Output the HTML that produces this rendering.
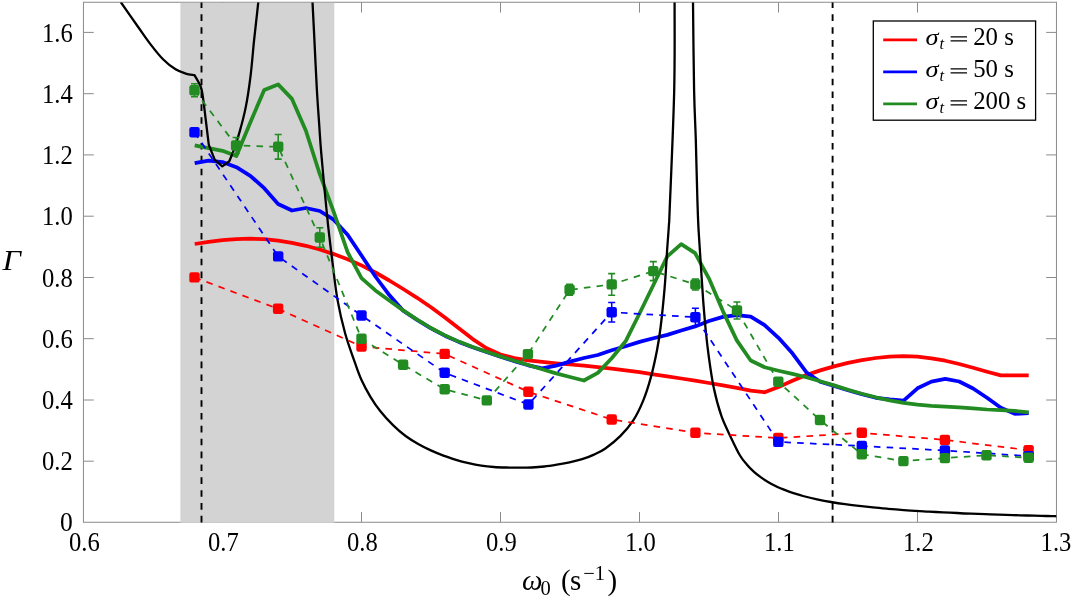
<!DOCTYPE html>
<html><head><meta charset="utf-8"><title>Gamma vs omega0</title>
<style>html,body{margin:0;padding:0;background:#fff;}body{width:1071px;height:603px;overflow:hidden;font-family:"Liberation Serif",serif;}svg{display:block;will-change:transform;}text{font-family:"Liberation Serif",serif;fill:#000;}</style>
</head><body>
<svg width="1071" height="603" viewBox="0 0 1071 603">
<rect x="0" y="0" width="1071" height="603" fill="#ffffff"/>
<g stroke="#8a8a8a" stroke-width="1" fill="none">
<rect x="83.45" y="2.25" width="973" height="520"/>
<path d="M222.5 522.25 v-10.3 M222.5 2.25 v10.3"/>
<path d="M361.5 522.25 v-10.3 M361.5 2.25 v10.3"/>
<path d="M500.5 522.25 v-10.3 M500.5 2.25 v10.3"/>
<path d="M639.5 522.25 v-10.3 M639.5 2.25 v10.3"/>
<path d="M778.5 522.25 v-10.3 M778.5 2.25 v10.3"/>
<path d="M917.5 522.25 v-10.3 M917.5 2.25 v10.3"/>
<path d="M83.45 461.2 h10.3 M1056.45 461.2 h-10.3"/>
<path d="M83.45 400 h10.3 M1056.45 400 h-10.3"/>
<path d="M83.45 338.7 h10.3 M1056.45 338.7 h-10.3"/>
<path d="M83.45 277.5 h10.3 M1056.45 277.5 h-10.3"/>
<path d="M83.45 216.2 h10.3 M1056.45 216.2 h-10.3"/>
<path d="M83.45 154.9 h10.3 M1056.45 154.9 h-10.3"/>
<path d="M83.45 93.7 h10.3 M1056.45 93.7 h-10.3"/>
<path d="M83.45 32.4 h10.3 M1056.45 32.4 h-10.3"/>
</g>
<rect x="180.4" y="2.9" width="153.9" height="519.9" fill="#d3d3d3"/>
<path d="M201.5 522.5 V2.5" stroke="#000" stroke-width="1.9" stroke-dasharray="6.63 6.23" fill="none"/>
<path d="M832.6 522.5 V2.5" stroke="#000" stroke-width="1.9" stroke-dasharray="6.63 6.23" fill="none"/>
<defs><clipPath id="cp"><rect x="83.5" y="2.5" width="973" height="520"/></clipPath></defs>
<g clip-path="url(#cp)">
<path d="M194.7 244 L208.6 241.9 L222.5 240.2 L236.4 239.1 L250.3 238.7 L264.2 239.2 L278.1 240.6 L292 242.8 L305.9 245.8 L319.8 249.5 L333.7 254.1 L347.6 259.3 L361.5 265.4 L375.4 272.5 L389.3 280.5 L403.2 289 L417.1 297.8 L431 307.2 L444.9 317.4 L458.8 328.2 L472.7 339.1 L486.6 348.3 L500.5 354.5 L514.4 358.1 L528.3 360.3 L542.2 361.9 L556.1 363.3 L570 364.5 L583.9 365.7 L597.8 367.1 L611.7 368.6 L625.6 370.3 L639.5 372.2 L653.4 374.3 L667.3 376.4 L681.2 378.5 L695.1 380.7 L709 383 L722.9 385.3 L736.8 387.8 L750.7 390.6 L764.6 392.3 L778.5 387.1 L792.4 380.7 L806.3 375.1 L820.2 370.4 L834.1 366.4 L848 362.9 L861.9 360.1 L875.8 358 L889.7 356.7 L903.6 356.2 L917.5 356.7 L931.4 358.3 L945.3 360.7 L959.2 364 L973.1 367.8 L987 371.7 L1000.9 375.4 L1014.8 375.4 L1028.7 375.4" stroke="#ff0000" stroke-width="3.75" fill="none" stroke-linejoin="round"/>
<path d="M194.7 163.1 L208.6 160.6 L222.5 162.1 L236.4 167.2 L250.3 175.8 L264.2 188.2 L278.1 204 L292 210.5 L305.9 208 L319.8 211 L333.7 219.7 L347.6 234.8 L361.5 255.5 L375.4 276.5 L389.3 295.1 L403.2 310.7 L417.1 319.9 L431 328.3 L444.9 335.7 L458.8 341.9 L472.7 347.2 L486.6 352.1 L500.5 356.7 L514.4 361.1 L528.3 365.3 L542.2 368.4 L556.1 365.6 L570 361.6 L583.9 358 L597.8 355 L611.7 350.2 L625.6 346.2 L639.5 341.9 L653.4 338.2 L667.3 334.9 L681.2 330.5 L695.1 326.4 L709 321 L722.9 316.9 L736.8 315.2 L750.7 316.6 L764.6 325.1 L778.5 337.8 L792.4 353.3 L806.3 372.2 L820.2 381.7 L834.1 385.9 L848 390.3 L861.9 394.3 L875.8 397.8 L889.7 399.4 L903.6 400.6 L917.5 388.3 L931.4 381.6 L945.3 378.9 L959.2 381.5 L973.1 388.5 L987 397.8 L1000.9 407.7 L1014.8 413.9 L1028.7 413.2" stroke="#0000ff" stroke-width="3.75" fill="none" stroke-linejoin="round"/>
<path d="M194.7 145.3 L208.6 148.2 L222.5 150.8 L236.4 156 L250.3 122.5 L264.2 90 L278.1 84.4 L292 98.9 L305.9 130.7 L319.8 174.2 L333.7 211.9 L347.6 252.2 L361.5 278.2 L375.4 290.4 L389.3 300.6 L403.2 310.4 L417.1 319.6 L431 328 L444.9 335.4 L458.8 341.6 L472.7 346.9 L486.6 351.8 L500.5 356.4 L514.4 360.8 L528.3 365 L542.2 369.2 L556.1 373.4 L570 377 L583.9 380.5 L597.8 372.9 L611.7 358.3 L625.6 341.3 L639.5 313.5 L653.4 285 L667.3 256.4 L681.2 244.1 L695.1 253.1 L709 278.6 L722.9 311.1 L736.8 340.4 L750.7 360.5 L764.6 367.2 L778.5 370.7 L792.4 373.9 L806.3 377.3 L820.2 381.2 L834.1 385.4 L848 389.8 L861.9 393.8 L875.8 397.3 L889.7 400.3 L903.6 402.8 L917.5 404.6 L931.4 405.9 L945.3 406.7 L959.2 407.3 L973.1 408.4 L987 409.5 L1000.9 410.1 L1014.8 410.9 L1028.7 412.4" stroke="#228b22" stroke-width="3.75" fill="none" stroke-linejoin="round"/>
<path d="M120.7 2 C123.6 6.1 132.9 19.5 137.8 26.5 C142.8 33.5 146.2 38.6 150.4 44.1 C154.6 49.6 158.8 55 163 59.2 C167.2 63.4 171.8 66.9 175.6 69.3 C179.4 71.7 182.5 72.6 185.7 73.6 C188.8 74.6 193 74.8 194.5 75.1L194.5 75.1 C195.6 77.1 199.3 82.7 200.8 87 C202.3 91.3 202.6 95.1 203.4 100.8 C204.2 106.5 205 113.7 205.9 121 C206.8 128.3 208.3 140.8 208.8 144.8L208.8 144.8 L214.8 159.9 L222.3 166.4 L229.3 161.3 L233.1 151.9L233.1 151.9 C234.2 148.4 237.7 138.8 239.8 131.1 C242 123.4 244.2 115.2 246 105.9 C247.8 96.7 249.3 86.1 250.6 75.6 C251.9 65.1 252.9 52.1 253.8 42.9 C254.8 33.7 255.6 27 256.3 20.2 C257.1 13.4 258 5 258.3 2" stroke="#000" stroke-width="2.3" fill="none" stroke-linejoin="round" stroke-linecap="butt"/>
<path d="M312.5 2 C312.8 8 313.6 23.4 314.3 37.8 C315 52.2 316 73.5 316.8 88.2 C317.6 102.9 318.6 115.5 319.3 126 C320 136.5 320.2 141 321.1 151.3 C322 161.6 323.2 175.4 324.4 187.8 C325.6 200.2 326.8 213.1 328.1 225.6 C329.5 238.1 330.9 250.1 332.5 262.6 C334.1 275.1 335.5 288.6 337.6 300.4 C339.7 312.2 342.2 322.7 345.1 333.2 C348 343.7 352.5 355.6 355.2 363.4 C357.9 371.2 359 374.5 361.5 380 C364 385.5 367.2 391.4 370.3 396.6 C373.4 401.8 376.6 406.6 380.4 411.3 C384.2 416.1 388.8 421 393 425.1 C397.2 429.2 401.4 432.9 405.6 436 C409.8 439.1 414 441.6 418.2 444 C422.4 446.4 426.6 448.5 430.8 450.4 C435 452.3 439.2 454 443.4 455.6 C447.6 457.2 451.8 458.5 456 459.8 C460.2 461.1 464.4 462.2 468.6 463.2 C472.8 464.2 477.1 465.1 481.3 465.7 C485.5 466.3 489.7 466.7 493.9 467 C498.1 467.3 502.3 467.4 506.5 467.5 C510.7 467.6 514.9 467.7 519.1 467.7 C523.3 467.7 527.5 467.7 531.7 467.5 C535.9 467.3 540.1 467 544.3 466.5 C548.5 466 552.7 465.3 556.9 464.6 C561.1 463.9 565.3 463.3 569.5 462.4 C573.7 461.5 578 460.5 582.1 459.2 C586.2 457.9 590.1 456.4 594 454.6 C597.9 452.8 601 451.6 605.4 448.5 C609.8 445.4 615.9 440.5 620.5 435.9 C625.1 431.3 629.3 426.6 633.1 420.7 C636.9 414.8 640.3 407.7 643.2 400.6 C646.1 393.5 648.4 386.3 650.7 377.9 C653 369.5 655.4 358.5 657 350.2 C658.6 341.9 659.2 338.3 660.5 328 C661.8 317.7 663.5 301.1 664.6 288.2 C665.7 275.3 666.4 260.9 667.1 250.4 C667.8 239.9 668.5 232.1 668.9 225.2 C669.3 218.3 668.8 231.4 669.7 209 C670.6 186.6 673.4 125.1 674.2 90.6 C675 56.1 674.5 16.8 674.6 2" stroke="#000" stroke-width="2.3" fill="none" stroke-linejoin="round" stroke-linecap="butt"/>
<path d="M693 2 C693.2 16.8 693.6 67.7 694.1 90.6 C694.6 113.5 695.2 121.2 695.8 139.4 C696.3 157.6 696.9 184.8 697.4 200 C697.9 215.2 698 219.8 698.6 230.3 C699.2 240.8 699.9 251.2 700.7 263 C701.5 274.8 702.4 289.5 703.2 300.8 C704.1 312.1 704.9 321.8 705.8 331 C706.7 340.2 707.4 346.5 708.7 356 C710 365.5 711.7 378.1 713.8 388 C715.9 397.9 718.4 407.3 721.3 415.7 C724.2 424.1 728.3 431.8 731.4 438.4 C734.5 445 737.4 451.1 740 455.5 C742.6 459.9 744.7 462 747 464.7 C749.3 467.5 751.7 469.7 754 471.8 C756.3 473.9 758.7 475.7 761 477.4 C763.3 479.1 765.7 480.6 768 481.9 C770.3 483.3 772.7 484.6 775 485.7 C777.3 486.9 779.7 487.9 782 488.9 C784.3 489.9 786.7 490.8 789 491.6 C791.3 492.4 793.7 493.2 796 493.9 C798.3 494.7 799.5 495.1 803 496 C806.5 496.9 812.3 498.3 817 499.3 C821.7 500.3 826.3 501.2 831 502 C835.7 502.8 840.3 503.5 845 504.1 C849.7 504.8 854.3 505.4 859 505.9 C863.7 506.5 868.3 507 873 507.4 C877.7 507.9 882.3 508.3 887 508.7 C891.7 509.1 896.3 509.5 901 509.8 C905.7 510.2 910.3 510.5 915 510.8 C919.7 511.1 924.3 511.4 929 511.6 C933.7 511.9 938.3 512.1 943 512.4 C947.7 512.6 952.3 512.8 957 513 C961.7 513.3 966.3 513.5 971 513.6 C975.7 513.8 980.3 514 985 514.2 C989.7 514.3 994.3 514.5 999 514.7 C1003.7 514.8 1008.3 515 1013 515.1 C1017.7 515.2 1022.3 515.4 1027 515.5 C1031.7 515.6 1036.3 515.8 1041 515.9 C1045.7 516 1052.4 516.2 1055 516.2 C1057.6 516.3 1056.2 516.2 1056.5 516.2" stroke="#000" stroke-width="2.3" fill="none" stroke-linejoin="round" stroke-linecap="butt"/>
<path d="M194.5 277.4 L278.1 308.8 L361.5 346.5 L444.7 353.9 L528.4 391.8 L611.7 419.5 L695.4 432.8 L778.3 438 L861.8 432.8 L944.9 439.9 L1028.6 450.2" stroke="#ff0000" stroke-width="1.75" stroke-dasharray="6.6 6.2" fill="none"/>
<rect x="189.3" y="272.2" width="10.4" height="10.4" rx="2.2" fill="#ff0000"/>
<rect x="272.9" y="303.6" width="10.4" height="10.4" rx="2.2" fill="#ff0000"/>
<rect x="356.3" y="341.3" width="10.4" height="10.4" rx="2.2" fill="#ff0000"/>
<rect x="439.5" y="348.7" width="10.4" height="10.4" rx="2.2" fill="#ff0000"/>
<rect x="523.2" y="386.6" width="10.4" height="10.4" rx="2.2" fill="#ff0000"/>
<rect x="606.5" y="414.3" width="10.4" height="10.4" rx="2.2" fill="#ff0000"/>
<rect x="690.2" y="427.6" width="10.4" height="10.4" rx="2.2" fill="#ff0000"/>
<rect x="773.1" y="432.8" width="10.4" height="10.4" rx="2.2" fill="#ff0000"/>
<rect x="856.6" y="427.6" width="10.4" height="10.4" rx="2.2" fill="#ff0000"/>
<rect x="939.7" y="434.7" width="10.4" height="10.4" rx="2.2" fill="#ff0000"/>
<rect x="1023.4" y="445" width="10.4" height="10.4" rx="2.2" fill="#ff0000"/>
<path d="M194.5 132.2 L278.2 256.4 L361.5 315.5 L444.7 372.8 L528.4 404.5 L611.7 312.2 L695.4 317.2 L778.3 441.9 L861.8 446 L944.9 450.5 L1028.6 456.2" stroke="#0000ff" stroke-width="1.75" stroke-dasharray="6.6 6.2" fill="none"/>
<path d="M611.7 302.4 V322 M608.2 302.4 h7 M608.2 322 h7 M695.4 308.2 V326.2 M691.9 308.2 h7 M691.9 326.2 h7" stroke="#0000ff" stroke-width="1.55" fill="none"/>
<rect x="189.3" y="127" width="10.4" height="10.4" rx="2.2" fill="#0000ff"/>
<rect x="273" y="251.2" width="10.4" height="10.4" rx="2.2" fill="#0000ff"/>
<rect x="356.3" y="310.3" width="10.4" height="10.4" rx="2.2" fill="#0000ff"/>
<rect x="439.5" y="367.6" width="10.4" height="10.4" rx="2.2" fill="#0000ff"/>
<rect x="523.2" y="399.3" width="10.4" height="10.4" rx="2.2" fill="#0000ff"/>
<rect x="606.5" y="307" width="10.4" height="10.4" rx="2.2" fill="#0000ff"/>
<rect x="690.2" y="312" width="10.4" height="10.4" rx="2.2" fill="#0000ff"/>
<rect x="773.1" y="436.7" width="10.4" height="10.4" rx="2.2" fill="#0000ff"/>
<rect x="856.6" y="440.8" width="10.4" height="10.4" rx="2.2" fill="#0000ff"/>
<rect x="939.7" y="445.3" width="10.4" height="10.4" rx="2.2" fill="#0000ff"/>
<rect x="1023.4" y="451" width="10.4" height="10.4" rx="2.2" fill="#0000ff"/>
<path d="M194.5 90.2 L236.1 145.5 L278.2 146.8 L319.8 237.5 L361.5 338.7 L403.1 364.7 L444.7 389.3 L486.8 400.4 L527.9 354.1 L569.6 289.8 L611.7 284.4 L653.3 271.1 L695.4 284.4 L737 310.4 L778.3 381.7 L820 420 L861.8 454.3 L903.4 461.1 L944.9 458.1 L986.5 455.3 L1028.6 457.8" stroke="#228b22" stroke-width="1.75" stroke-dasharray="6.6 6.2" fill="none"/>
<path d="M194.5 83.7 V96.7 M191 83.7 h7 M191 96.7 h7 M236.1 137.5 V153.5 M232.6 137.5 h7 M232.6 153.5 h7 M278.2 134.5 V159.1 M274.7 134.5 h7 M274.7 159.1 h7 M319.8 227.8 V247.2 M316.3 227.8 h7 M316.3 247.2 h7 M569.6 284.3 V295.3 M566.1 284.3 h7 M566.1 295.3 h7 M611.7 273.6 V295.2 M608.2 273.6 h7 M608.2 295.2 h7 M653.3 261.6 V280.6 M649.8 261.6 h7 M649.8 280.6 h7 M695.4 278.9 V289.9 M691.9 278.9 h7 M691.9 289.9 h7 M737 301.9 V318.9 M733.5 301.9 h7 M733.5 318.9 h7" stroke="#228b22" stroke-width="1.55" fill="none"/>
<rect x="189.3" y="85" width="10.4" height="10.4" rx="2.2" fill="#228b22"/>
<rect x="230.9" y="140.3" width="10.4" height="10.4" rx="2.2" fill="#228b22"/>
<rect x="273" y="141.6" width="10.4" height="10.4" rx="2.2" fill="#228b22"/>
<rect x="314.6" y="232.3" width="10.4" height="10.4" rx="2.2" fill="#228b22"/>
<rect x="356.3" y="333.5" width="10.4" height="10.4" rx="2.2" fill="#228b22"/>
<rect x="397.9" y="359.5" width="10.4" height="10.4" rx="2.2" fill="#228b22"/>
<rect x="439.5" y="384.1" width="10.4" height="10.4" rx="2.2" fill="#228b22"/>
<rect x="481.6" y="395.2" width="10.4" height="10.4" rx="2.2" fill="#228b22"/>
<rect x="522.7" y="348.9" width="10.4" height="10.4" rx="2.2" fill="#228b22"/>
<rect x="564.4" y="284.6" width="10.4" height="10.4" rx="2.2" fill="#228b22"/>
<rect x="606.5" y="279.2" width="10.4" height="10.4" rx="2.2" fill="#228b22"/>
<rect x="648.1" y="265.9" width="10.4" height="10.4" rx="2.2" fill="#228b22"/>
<rect x="690.2" y="279.2" width="10.4" height="10.4" rx="2.2" fill="#228b22"/>
<rect x="731.8" y="305.2" width="10.4" height="10.4" rx="2.2" fill="#228b22"/>
<rect x="773.1" y="376.5" width="10.4" height="10.4" rx="2.2" fill="#228b22"/>
<rect x="814.8" y="414.8" width="10.4" height="10.4" rx="2.2" fill="#228b22"/>
<rect x="856.6" y="449.1" width="10.4" height="10.4" rx="2.2" fill="#228b22"/>
<rect x="898.2" y="455.9" width="10.4" height="10.4" rx="2.2" fill="#228b22"/>
<rect x="939.7" y="452.9" width="10.4" height="10.4" rx="2.2" fill="#228b22"/>
<rect x="981.3" y="450.1" width="10.4" height="10.4" rx="2.2" fill="#228b22"/>
<rect x="1023.4" y="452.6" width="10.4" height="10.4" rx="2.2" fill="#228b22"/>
</g>
<text transform="translate(84.3 550.5) scale(0.905 1)" font-size="27.2" text-anchor="middle">0.6</text>
<text transform="translate(223.3 550.5) scale(0.905 1)" font-size="27.2" text-anchor="middle">0.7</text>
<text transform="translate(362.3 550.5) scale(0.905 1)" font-size="27.2" text-anchor="middle">0.8</text>
<text transform="translate(501.3 550.5) scale(0.905 1)" font-size="27.2" text-anchor="middle">0.9</text>
<text transform="translate(640.3 550.5) scale(0.905 1)" font-size="27.2" text-anchor="middle">1.0</text>
<text transform="translate(779.3 550.5) scale(0.905 1)" font-size="27.2" text-anchor="middle">1.1</text>
<text transform="translate(918.3 550.5) scale(0.905 1)" font-size="27.2" text-anchor="middle">1.2</text>
<text transform="translate(1056 550.5) scale(0.905 1)" font-size="27.2" text-anchor="middle">1.3</text>
<text transform="translate(72.7 530.9) scale(0.94 1)" font-size="27.2" text-anchor="end">0</text>
<text transform="translate(72.7 470.4) scale(0.905 1)" font-size="27.2" text-anchor="end">0.2</text>
<text transform="translate(72.7 409.2) scale(0.905 1)" font-size="27.2" text-anchor="end">0.4</text>
<text transform="translate(72.7 347.9) scale(0.905 1)" font-size="27.2" text-anchor="end">0.6</text>
<text transform="translate(72.7 286.7) scale(0.905 1)" font-size="27.2" text-anchor="end">0.8</text>
<text transform="translate(72.7 225.4) scale(0.905 1)" font-size="27.2" text-anchor="end">1.0</text>
<text transform="translate(72.7 164.1) scale(0.905 1)" font-size="27.2" text-anchor="end">1.2</text>
<text transform="translate(72.7 102.9) scale(0.905 1)" font-size="27.2" text-anchor="end">1.4</text>
<text transform="translate(72.7 41.6) scale(0.905 1)" font-size="27.2" text-anchor="end">1.6</text>
<text transform="translate(2.6 269.9) scale(1.09 1)" font-size="29.6" font-style="italic">&#915;</text>
<text x="522" y="589.8" font-size="29" font-style="italic">&#969;</text>
<text x="540.6" y="595" font-size="20.5">0</text>
<text x="561" y="589.8" font-size="29">(</text>
<text x="570" y="589.8" font-size="29">s</text>
<text x="583.3" y="579.6" font-size="20.5">&#8722;1</text>
<text x="607.6" y="589.8" font-size="29">)</text>
<rect x="873.3" y="21" width="162.3" height="99.2" fill="#fff" stroke="#000" stroke-width="1.3"/>
<path d="M883.2 39.9 H917" stroke="#ff0000" stroke-width="2.9"/>
<text transform="translate(925.4 44.6) scale(1.16 1)" font-size="22.8" font-style="italic">&#963;</text>
<text x="939.4" y="49.2" font-size="16.5" font-style="italic">t</text>
<path d="M950.6 36.8 h16.4 M950.6 40.8 h16.4" stroke="#000" stroke-width="1.3"/>
<text x="973.2" y="44.6" font-size="24.8">20</text>
<text x="1004.2" y="44.6" font-size="24.8">s</text>
<path d="M883.2 71.9 H917" stroke="#0000ff" stroke-width="2.9"/>
<text transform="translate(925.4 76.6) scale(1.16 1)" font-size="22.8" font-style="italic">&#963;</text>
<text x="939.4" y="81.2" font-size="16.5" font-style="italic">t</text>
<path d="M950.6 68.8 h16.4 M950.6 72.8 h16.4" stroke="#000" stroke-width="1.3"/>
<text x="973.2" y="76.6" font-size="24.8">50</text>
<text x="1004.2" y="76.6" font-size="24.8">s</text>
<path d="M883.2 103.9 H917" stroke="#228b22" stroke-width="2.9"/>
<text transform="translate(925.4 108.6) scale(1.16 1)" font-size="22.8" font-style="italic">&#963;</text>
<text x="939.4" y="113.2" font-size="16.5" font-style="italic">t</text>
<path d="M950.6 100.8 h16.4 M950.6 104.8 h16.4" stroke="#000" stroke-width="1.3"/>
<text x="973.2" y="108.6" font-size="24.8">200</text>
<text x="1016.6" y="108.6" font-size="24.8">s</text>
</svg>
</body></html>
